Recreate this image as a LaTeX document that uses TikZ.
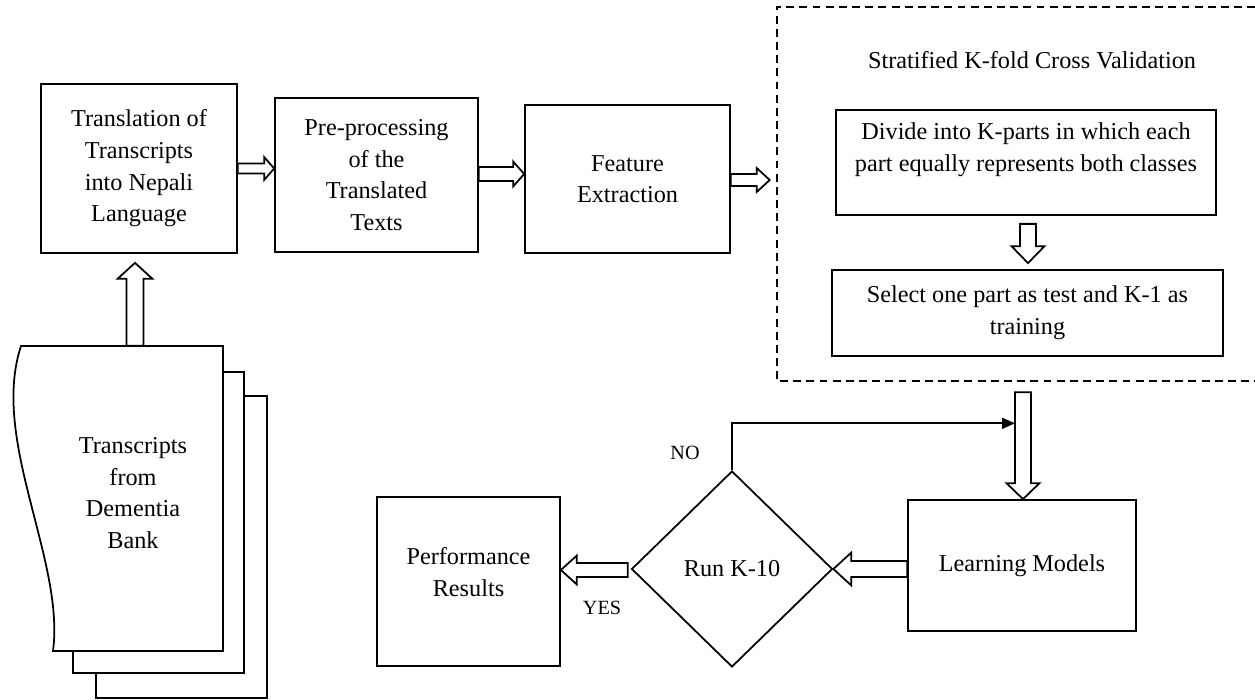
\documentclass[tikz,border=0pt]{standalone}
\usepackage{fontspec}
\setmainfont{Liberation Serif}
\usetikzlibrary{calc,shapes.geometric,arrows.meta}
\tikzset{
  box/.style={draw, line width=1pt, fill=white, align=center, inner sep=0pt,
    font=\fontsize{13.8}{18}\selectfont},
  txt/.style={align=center, inner sep=0pt, font=\fontsize{13.8}{18}\selectfont},
  small/.style={inner sep=0pt, font=\fontsize{11.5}{14}\selectfont},
  page/.style={draw, line width=1pt, fill=white},
  barrowstyle/.style={draw, line width=1pt, fill=white, line join=miter},
  thinarrow/.style={draw, line width=1pt, -{Triangle[length=0.26cm,width=0.22cm]}},
  cvbox/.style={draw, line width=1pt, dash pattern=on 4.5pt off 3pt}
}
% block arrow: #1 tail, #2 tip, #3 shaft half width, #4 head half width, #5 head length
\newcommand\blockarrow[5]{%
  \path[barrowstyle] ($(#1)!#3!90:(#2)$)
    -- ($($(#2)!#5!(#1)$)!#3!-90:(#1)$)
    -- ($($(#2)!#5!(#1)$)!#4!-90:(#1)$)
    -- (#2)
    -- ($($(#2)!#5!(#1)$)!#4!90:(#1)$)
    -- ($($(#2)!#5!(#1)$)!#3!90:(#1)$)
    -- ($(#1)!#3!-90:(#2)$) -- cycle;}
\begin{document}
\begin{tikzpicture}[x=0.02cm,y=-0.02cm]
\useasboundingbox (0,0) rectangle (1255,700);

% document stack
\draw[page] (96,396) rectangle (267,698);
\draw[page] (73,372) rectangle (244,673);
\draw[page] (21,346) -- (223,346) -- (223,651) -- (53,651)
  .. controls (65,560) and (-10,440) .. (21,346) -- cycle;
\node[minimum width=4.04cm, minimum height=6.1cm, inner sep=0pt] (doc) at (122,498.5) {};
\node[txt] (doctext) at (133,493) {Transcripts\\from\\Dementia\\Bank};

% top row
\node[box, minimum width=3.92cm, minimum height=3.38cm] (trans) at (139,168.5)
  {Translation of\\Transcripts\\into Nepali\\Language};
\node[box, minimum width=4.06cm, minimum height=3.08cm] (pre) at (376.5,175)
  {Pre-processing\\of the\\Translated\\Texts};
\node[box, minimum width=4.1cm, minimum height=2.96cm] (feat) at (627.5,179)
  {Feature\\Extraction};

% cross validation container
\node[minimum width=9.56cm, minimum height=7.48cm, inner sep=0pt] (cv) at (1016,194) {};
\draw[cvbox] (cv.north east) -- (cv.north west) -- (cv.south west) -- (cv.south east);
\node[txt] (cvtitle) at (1032,60) {Stratified K-fold Cross Validation};
\node[box, minimum width=7.6cm, minimum height=2.1cm] (div) at (1026,162.5) {};
\node[txt] (divtext) at (1026,150) {Divide into K-parts in which each\\part equally represents both classes};
\node[box, minimum width=7.82cm, minimum height=1.72cm] (sel) at (1027.5,313)
  {Select one part as test and K-1 as\\training};

% bottom row
\node[box, minimum width=4.56cm, minimum height=2.62cm] (learn) at (1022,565.5) {Learning Models};
\node[draw, line width=1pt, diamond, aspect=1, minimum width=4.02cm, minimum height=3.92cm,
  inner sep=0pt, font=\fontsize{13.8}{18}\selectfont] (dia) at (732,569) {Run K-10};
\node[box, minimum width=3.66cm, minimum height=3.38cm] (perf) at (468.5,581.5) {};
\node[txt] (perftext) at (468.5,572) {Performance\\Results};

% block arrows
\coordinate (a1t) at ($(trans.south)+(-4,9)$);
\coordinate (a1s) at (a1t |- doc.north);
\blockarrow{a1s}{a1t}{0.17cm}{0.35cm}{0.32cm}

\coordinate (a2s) at (trans.east);
\coordinate (a2t) at (pre.west |- trans.east);
\blockarrow{a2s}{a2t}{0.1cm}{0.23cm}{0.2cm}

\coordinate (a3s) at ($(pre.east)+(0,-1)$);
\coordinate (a3t) at (feat.west |- a3s);
\blockarrow{a3s}{a3t}{0.14cm}{0.25cm}{0.22cm}

\coordinate (a4s) at ($(feat.east)+(0,1)$);
\coordinate (a4t) at ($(cv.west |- a4s)+(-7,0)$);
\blockarrow{a4s}{a4t}{0.12cm}{0.24cm}{0.26cm}

\coordinate (a5s) at ($(div.south)+(2,8)$);
\coordinate (a5t) at ($(a5s |- sel.north)+(0,-6)$);
\blockarrow{a5s}{a5t}{0.16cm}{0.33cm}{0.34cm}

\coordinate (a6t) at ($(learn.north)+(1,0)$);
\coordinate (a6s) at ($(a6t |- cv.south)+(0,11)$);
\blockarrow{a6s}{a6t}{0.16cm}{0.33cm}{0.32cm}

\coordinate (a7t) at (dia.east);
\coordinate (a7s) at (learn.west |- dia.east);
\blockarrow{a7s}{a7t}{0.16cm}{0.33cm}{0.36cm}

\coordinate (a8s) at ($(dia.west)+(-3,1)$);
\coordinate (a8t) at (perf.east |- a8s);
\blockarrow{a8s}{a8t}{0.14cm}{0.29cm}{0.32cm}

% NO loop
\coordinate (noend) at ($(a6s)+(-8,31)$);
\draw[thinarrow] (dia.north) |- (noend);
\node[small] (no) at (685,453) {NO};
\node[small] (yes) at (602,608) {YES};
\end{tikzpicture}
\end{document}
